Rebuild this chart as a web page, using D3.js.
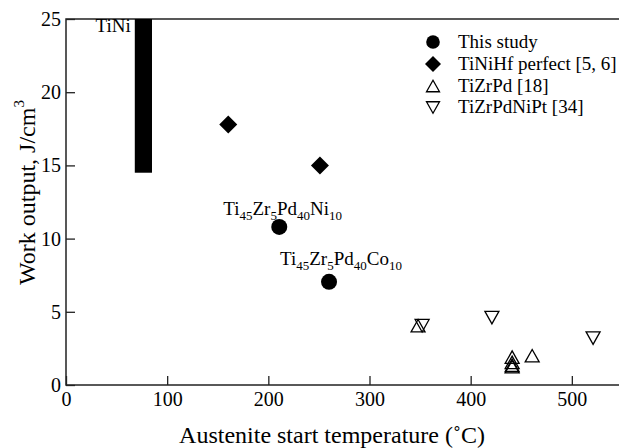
<html>
<head>
  <title>Work output vs austenite start temperature</title>
  <script src="https://cdnjs.cloudflare.com/ajax/libs/d3/7.8.5/d3.min.js"></script>
  <style>
    body { margin: 0; background: #fff; }
    text { font-family: "Liberation Serif", "Times New Roman", serif; fill: #000; }
  </style>
</head>
<body>
  <script>
    // data
    const thisStudy = [ [210.8, 10.8], [260, 7.05] ];
    const tiNiHf = [ [160.4, 17.8], [251, 15.0] ];
    const tiZrPd = [ [348, 4.05], [441, 1.9], [441, 1.55], [441, 1.35], [441, 1.25], [460.8, 2.0] ];
    const tiZrPdNiPt = [ [352, 4.05], [421, 4.6], [521, 3.2] ];
    const tiNiBar = { x0: 68, x1: 85, y0: 14.5, y1: 25 };
    const xTicks = [0, 100, 200, 300, 400, 500];
    const yTicks = [0, 5, 10, 15, 20, 25];
    const legendNames = ["This study", "TiNiHf perfect [5, 6]", "TiZrPd [18]", "TiZrPdNiPt [34]"];

    const width = 619, height = 448;
    const serif = "'Liberation Serif', 'Times New Roman', serif";

    const svg = d3.select( "body" )
    .append( "svg" )
    .attr( "width", width )
    .attr( "height", height )
    .attr( "font-family", serif );

    const x = d3.scaleLinear().domain( [0, 600] ).range( [66, 673] );
    const y = d3.scaleLinear().domain( [0, 25] ).range( [385, 19] );

    // frame (right side runs off the picture)
    svg.append( "rect" )
        .attr( "x", x(0) ).attr( "y", y(25) )
        .attr( "width", x(600) - x(0) ).attr( "height", y(0) - y(25) )
        .attr( "fill", "none" ).attr( "stroke", "#222" ).attr( "stroke-width", 1.5 );

    const xAxis = svg.append( "g" )
        .attr( "transform", `translate(0,${y(0)})` )
        .call( d3.axisBottom( x ).tickValues( xTicks ).tickSizeInner( -9 ).tickSizeOuter( 0 ).tickPadding( 7 ) );
    const yAxis = svg.append( "g" )
        .attr( "transform", `translate(${x(0)},0)` )
        .call( d3.axisLeft( y ).tickValues( yTicks ).tickSizeInner( -9 ).tickSizeOuter( 0 ).tickPadding( 5 ) );

    [xAxis, yAxis].forEach( g => {
      g.attr( "font-family", serif ).attr( "font-size", 20 );
      g.select( ".domain" ).remove();
      g.selectAll( "line" ).attr( "stroke", "#222" ).attr( "stroke-width", 1.3 );
      g.selectAll( "text" ).attr( "fill", "#000" );
    } );

    // TiNi bar
    svg.append( "rect" )
        .attr( "x", x(tiNiBar.x0) ).attr( "y", y(tiNiBar.y1) )
        .attr( "width", x(tiNiBar.x1) - x(tiNiBar.x0) )
        .attr( "height", y(tiNiBar.y0) - y(tiNiBar.y1) )
        .attr( "fill", "#000" );
    svg.append( "text" )
        .attr( "x", x(tiNiBar.x0) - 4 ).attr( "y", 32 )
        .attr( "text-anchor", "end" ).style( "font-size", "19px" )
        .text( "TiNi" );

    // marker shapes
    const tri = ( w, h, up ) => up
        ? `M0,${-h/2}L${w/2},${h/2}L${-w/2},${h/2}Z`
        : `M0,${h/2}L${w/2},${-h/2}L${-w/2},${-h/2}Z`;
    const diamond = r => `M0,${-r}L${r},0L0,${r}L${-r},0Z`;

    const marks = svg.append( "g" );

    marks.selectAll( "circle" )
        .data( thisStudy ).enter().append( "circle" )
        .attr( "cx", d => x(d[0]) ).attr( "cy", d => y(d[1]) )
        .attr( "r", 8 ).attr( "fill", "#000" );

    marks.selectAll( "path.dia" )
        .data( tiNiHf ).enter().append( "path" ).attr( "class", "dia" )
        .attr( "transform", d => `translate(${x(d[0])},${y(d[1])})` )
        .attr( "d", diamond( 9 ) ).attr( "fill", "#000" );

    marks.selectAll( "path.up" )
        .data( tiZrPd ).enter().append( "path" ).attr( "class", "up" )
        .attr( "transform", d => `translate(${x(d[0])},${y(d[1])})` )
        .attr( "d", tri( 14, 12.5, true ) )
        .attr( "fill", "none" ).attr( "stroke", "#000" ).attr( "stroke-width", 1.3 );

    marks.selectAll( "path.down" )
        .data( tiZrPdNiPt ).enter().append( "path" ).attr( "class", "down" )
        .attr( "transform", d => `translate(${x(d[0])},${y(d[1])})` )
        .attr( "d", tri( 14, 12.5, false ) )
        .attr( "fill", "none" ).attr( "stroke", "#000" ).attr( "stroke-width", 1.3 );

    // point labels with subscripts
    const labels = [
      { at: thisStudy[0], dx: -56, dy: -12, parts: [["Ti", "45"], ["Zr", "5"], ["Pd", "40"], ["Ni", "10"]] },
      { at: thisStudy[1], dx: -49, dy: -17, parts: [["Ti", "45"], ["Zr", "5"], ["Pd", "40"], ["Co", "10"]] }
    ];
    labels.forEach( l => {
      const t = svg.append( "text" )
          .attr( "x", x(l.at[0]) + l.dx ).attr( "y", y(l.at[1]) + l.dy )
          .style( "font-size", "19px" );
      l.parts.forEach( ( p, i ) => {
        t.append( "tspan" ).attr( "dy", i === 0 ? 0 : -5 ).text( p[0] );
        t.append( "tspan" ).attr( "dy", 5 ).style( "font-size", "13px" ).text( p[1] );
      } );
    } );

    // legend
    const legend = svg.append( "g" ).attr( "transform", "translate(433,0)" );
    const legendRows = [47.5, 69.5, 91.5, 113];
    const legendShapes = [
      g => g.append( "circle" ).attr( "r", 6.8 ).attr( "fill", "#000" ),
      g => g.append( "path" ).attr( "d", diamond( 8 ) ).attr( "fill", "#000" ),
      g => g.append( "path" ).attr( "d", tri( 13, 11.5, true ) ).attr( "fill", "none" ).attr( "stroke", "#000" ).attr( "stroke-width", 1.3 ),
      g => g.append( "path" ).attr( "d", tri( 13, 11.5, false ) ).attr( "fill", "none" ).attr( "stroke", "#000" ).attr( "stroke-width", 1.3 )
    ];
    legendNames.forEach( ( name, i ) => {
      const row = legend.append( "g" ).attr( "transform", `translate(0,${legendRows[i]})` );
      legendShapes[i]( row.append( "g" ).attr( "transform", "translate(0,-5.5)" ) );
      row.append( "text" ).attr( "x", 25 ).style( "font-size", "19px" ).text( name );
    } );

    // axis titles
    svg.append( "text" )
        .attr( "x", 332 ).attr( "y", 443 )
        .attr( "text-anchor", "middle" ).style( "font-size", "24px" )
        .text( "Austenite start temperature (˚C)" );

    const yt = svg.append( "text" )
        .attr( "transform", "translate(35,285) rotate(-90)" )
        .style( "font-size", "24px" );
    yt.append( "tspan" ).text( "Work output, J/cm" );
    yt.append( "tspan" ).attr( "dy", -11 ).style( "font-size", "15px" ).text( "3" );
  </script>
</body>
</html>
